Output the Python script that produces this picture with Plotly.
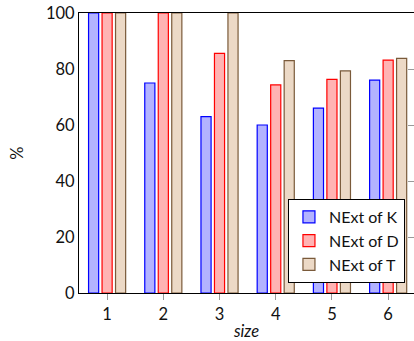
import plotly.graph_objects as go

sizes = [1, 2, 3, 4, 5, 6]
next_k = [100, 75, 63, 60, 66, 76]
next_d = [100, 100, 85.6, 74.3, 76.3, 83.2]
next_t = [100, 100, 100, 83, 79.3, 83.8]
y_ticks = [0, 20, 40, 60, 80, 100]

series = [
    ("NExt of K", next_k, "#b3b3ff", "#0000ff"),
    ("NExt of D", next_d, "#ffb3b3", "#ff0000"),
    ("NExt of T", next_t, "#ecd9c6", "#7a5a3a"),
]

fig = go.Figure()
for name, vals, fill, edge in series:
    fig.add_trace(go.Bar(
        x=sizes, y=vals, name=name,
        marker=dict(color=fill, line=dict(color=edge, width=1.2)),
    ))

font = "Lato, 'Open Sans', sans-serif"
fig.update_layout(
    width=414, height=341,
    margin=dict(l=79, r=0, t=13, b=48),
    paper_bgcolor="white", plot_bgcolor="white",
    barmode="group", bargap=0.28, bargroupgap=0.25,
    font=dict(family=font, size=16.5, color="#111"),
    showlegend=True,
    legend=dict(
        x=0.973, y=0.036, xanchor="right", yanchor="bottom",
        bgcolor="white", bordercolor="black", borderwidth=1,
        font=dict(size=16, color="#111"),
        tracegroupgap=0, itemwidth=30,
    ),
    xaxis=dict(
        range=[0.5, 6.46], tickvals=sizes, ticktext=[str(s) for s in sizes],
        showline=True, linecolor="black", linewidth=1, mirror=True,
        ticks="outside", ticklen=6, tickcolor="#999", showgrid=False, zeroline=False,
        title=dict(text="<i>size</i>", font=dict(size=16.5), standoff=3),
    ),
    yaxis=dict(
        range=[0, 100], tickvals=y_ticks, ticktext=[str(v) for v in y_ticks],
        showline=True, linecolor="black", linewidth=1,
        ticks="", showgrid=False, zeroline=False,
        title=dict(text="%", font=dict(size=16.5), standoff=18),
    ),
    yaxis2=dict(
        overlaying="y", side="right", matches="y", range=[0, 100],
        tickvals=y_ticks, showticklabels=False, ticks="inside", ticklen=6,
        tickcolor="#999", showgrid=False, zeroline=False, showline=False,
    ),
)
fig.add_trace(go.Scatter(x=[None], y=[None], yaxis="y2", showlegend=False, hoverinfo="skip"))

fig.write_html("out.html")
